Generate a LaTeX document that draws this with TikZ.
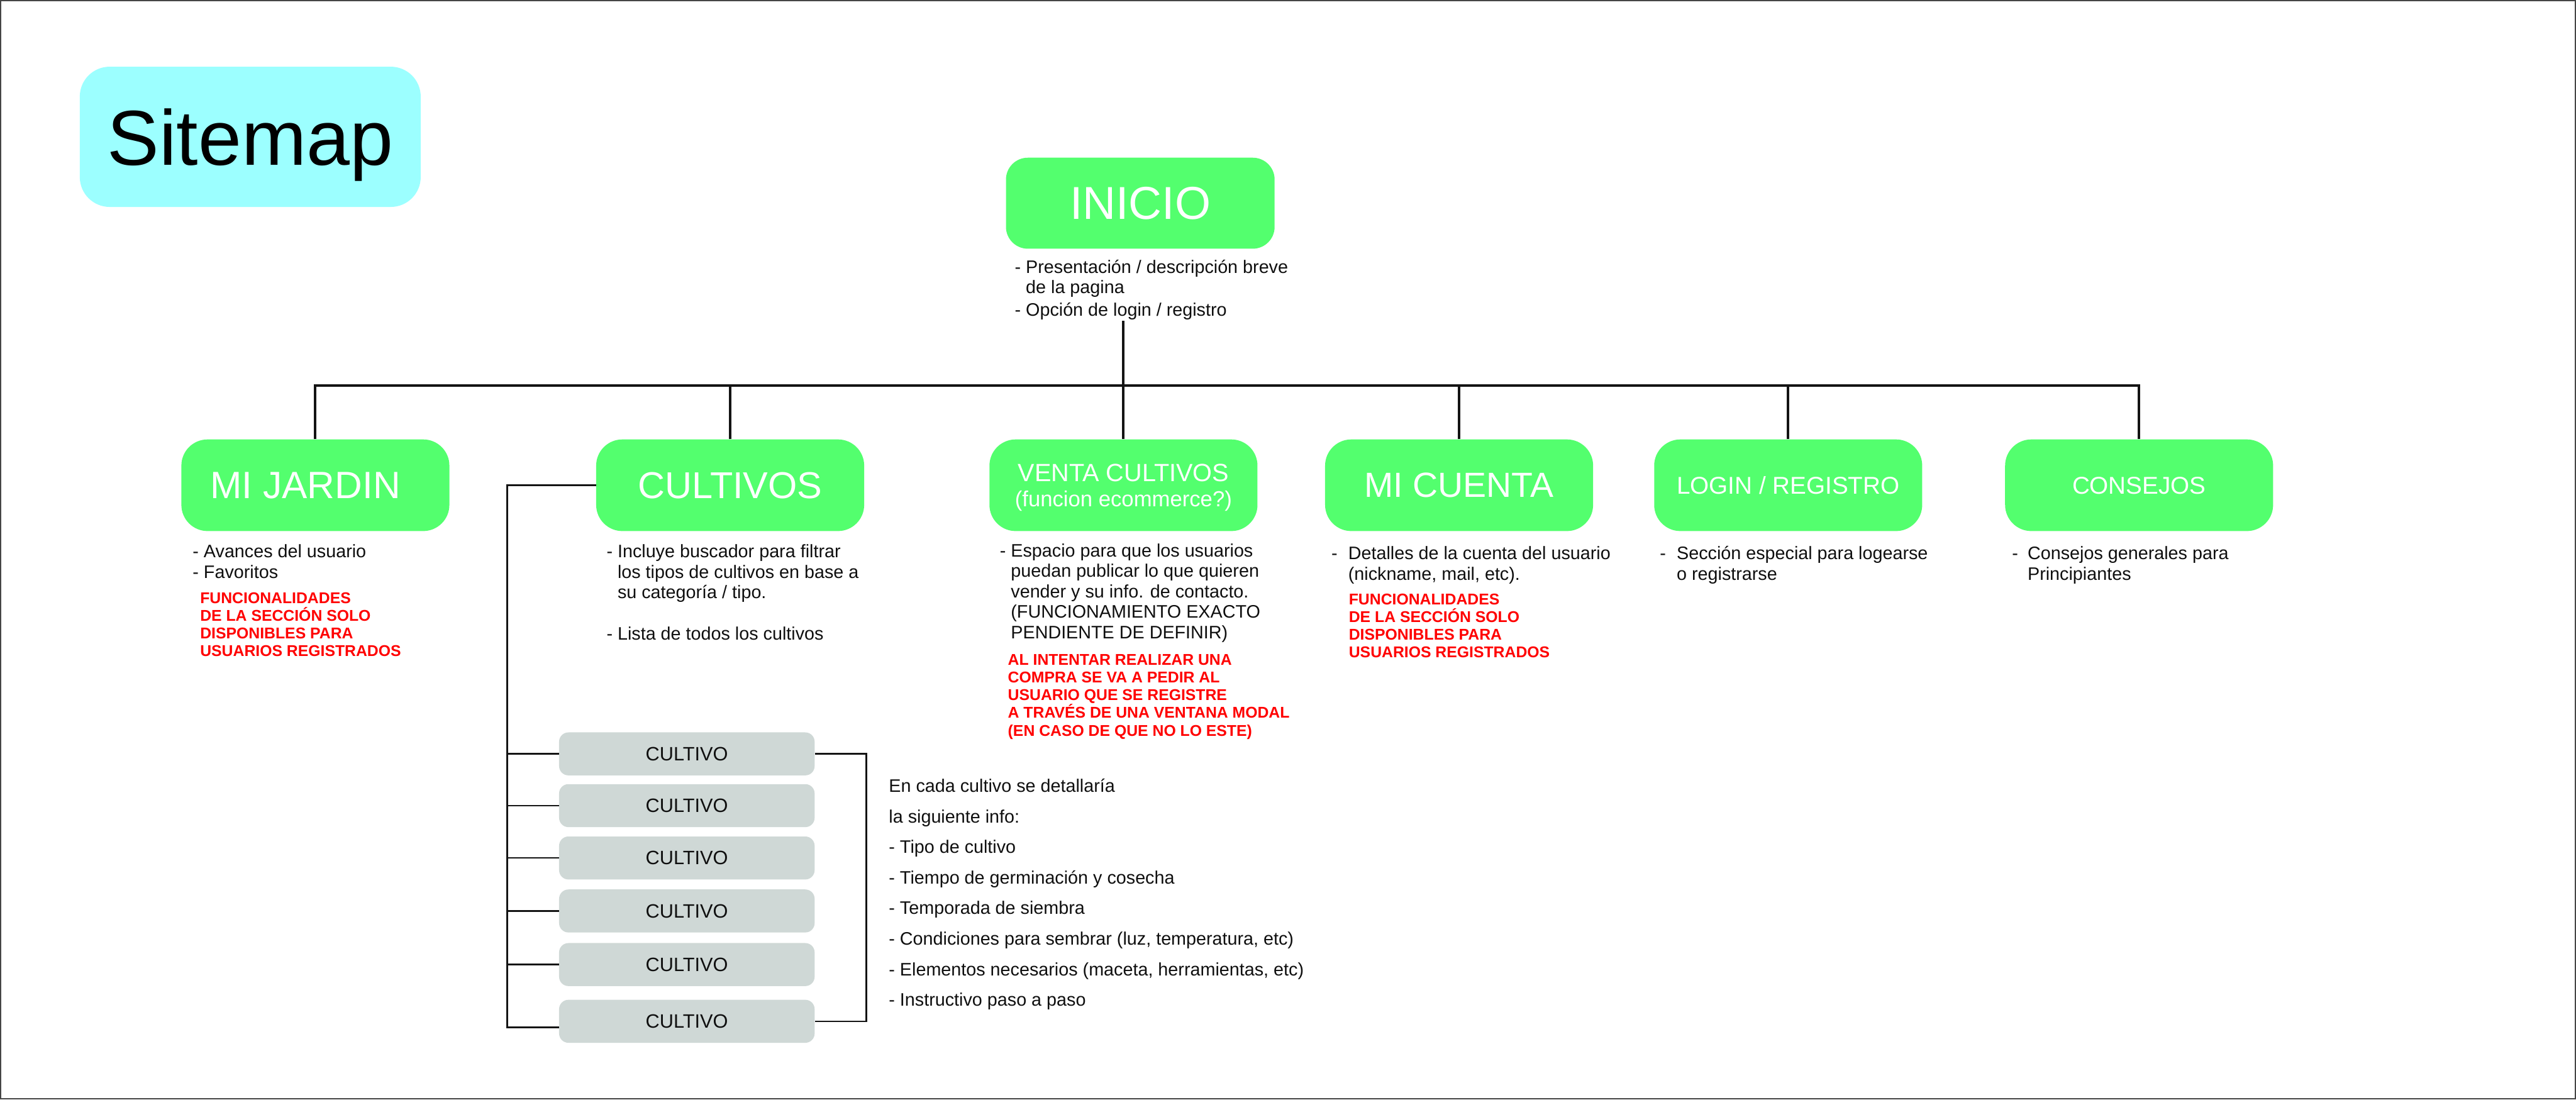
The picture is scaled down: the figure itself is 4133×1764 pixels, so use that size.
\documentclass[tikz,border=0pt]{standalone}
\usepackage{fontspec}
\setmainfont{Liberation Sans}
\definecolor{boxgreen}{RGB}{83,255,110}
\definecolor{sitecyan}{RGB}{156,255,255}
\definecolor{cultgray}{RGB}{207,216,214}
\definecolor{linek}{RGB}{20,20,20}
\definecolor{txtk}{RGB}{15,15,15}
\definecolor{redtxt}{RGB}{255,0,0}
\definecolor{framegray}{RGB}{70,70,70}
\begin{document}
\begin{tikzpicture}[x=1pt,y=-1pt,
  greenbox/.style={fill=boxgreen, draw=none, rounded corners=42pt, minimum width=430pt, minimum height=147pt, inner sep=0pt, text=white, align=center, text depth=0pt},
  cultbox/.style={fill=cultgray, draw=none, rounded corners=15pt, minimum width=410pt, minimum height=69pt, inner sep=0pt, text=txtk, font=\fontsize{31}{31}\selectfont, text depth=0pt},
  body/.style={inner sep=0pt, anchor=base west, text=txtk, font=\fontsize{29}{32.7}\selectfont},
  redbody/.style={inner sep=0pt, anchor=base west, text=redtxt, font=\bfseries\fontsize{25}{28.4}\selectfont},
  bus/.style={draw=linek, line width=4pt, line join=miter},
  tree/.style={draw=linek, line width=2.5pt, line join=miter},
]
\useasboundingbox (0,0) rectangle (4133,1764);
\draw[framegray, line width=2pt] (1,1) rectangle (4132,1763);

% title
\node[fill=sitecyan, rounded corners=48pt, minimum width=547pt, minimum height=225pt, inner sep=0pt,
      font=\fontsize{125}{125}\selectfont, text depth=0pt, text=black] (sitemap) at (401.5,219.5) {Sitemap};

% main nodes
\node[greenbox, rounded corners=35pt, minimum width=431pt, minimum height=146pt, font=\fontsize{74}{74}\selectfont] (inicio) at (1829.5,326) {INICIO};
\node[greenbox, font=\fontsize{61}{61}\selectfont] (jardin) at (506,778.5) {\hspace*{-32pt}MI JARDIN};
\node[greenbox, font=\fontsize{60}{60}\selectfont] (cultivos) at (1171.5,778.5) {CULTIVOS};
\node[greenbox, font=\fontsize{40}{42}\selectfont] (venta) at (1802.5,778.5) {VENTA CULTIVOS\\[-1pt]{\fontsize{35}{42}\selectfont(funcion ecommerce?)}};
\node[greenbox, font=\fontsize{56}{56}\selectfont] (cuenta) at (2341,778.5) {MI CUENTA};
\node[greenbox, font=\fontsize{39}{39}\selectfont] (login) at (2869,778.5) {LOGIN / REGISTRO};
\node[greenbox, font=\fontsize{39}{39}\selectfont] (consejos) at (3432,778.5) {CONSEJOS};

% descriptions
\node[body] (inicio-txt) at (1628,438) {\vtop{\hbox{- Presentación / descripción breve}\hbox{\phantom{- }de la pagina}\vskip4pt\hbox{- Opción de login / registro}}};
\node[body] (jardin-txt) at (309,895) {\vtop{\hbox{- Avances del usuario}\hbox{- Favoritos}}};
\node[redbody] (jardin-red) at (321,968) {\vtop{\hbox{FUNCIONALIDADES}\hbox{DE LA SECCIÓN SOLO}\hbox{DISPONIBLES PARA}\hbox{USUARIOS REGISTRADOS}}};
\node[body] (cultivos-txt) at (973,895) {\vtop{\hbox{- Incluye buscador para filtrar}\hbox{\phantom{- }los tipos de cultivos en base a}\hbox{\phantom{- }su categoría / tipo.}}};
\node[body] (cultivos-lista) at (973,1027) {- Lista de todos los cultivos};
\node[body] (venta-txt) at (1604,893.5) {\vtop{\hbox{- Espacio para que los usuarios}\hbox{\phantom{- }puedan publicar lo que quieren}\hbox{\phantom{- }vender y su info. de contacto.}\hbox{\phantom{- }(FUNCIONAMIENTO EXACTO}\hbox{\phantom{- }PENDIENTE DE DEFINIR)}}};
\node[redbody] (venta-red) at (1617,1067) {\vtop{\hbox{AL INTENTAR REALIZAR UNA}\hbox{COMPRA SE VA A PEDIR AL}\hbox{USUARIO QUE SE REGISTRE}\hbox{A TRAVÉS DE UNA VENTANA MODAL}\hbox{(EN CASO DE QUE NO LO ESTE)}}};
\node[body] (cuenta-txt) at (2136,898) {\vtop{\hbox{\makebox[27pt][l]{-}Detalles de la cuenta del usuario}\hbox{\hspace{27pt}(nickname, mail, etc).}}};
\node[redbody] (cuenta-red) at (2164,970) {\vtop{\hbox{FUNCIONALIDADES}\hbox{DE LA SECCIÓN SOLO}\hbox{DISPONIBLES PARA}\hbox{USUARIOS REGISTRADOS}}};
\node[body] (login-txt) at (2663,898) {\vtop{\hbox{\makebox[27pt][l]{-}Sección especial para logearse}\hbox{\hspace{27pt}o registrarse}}};
\node[body] (consejos-txt) at (3228,898) {\vtop{\hbox{\makebox[25pt][l]{-}Consejos generales para}\hbox{\hspace{25pt}Principiantes}}};

% cultivo list
\foreach \i/\y in {1/1209.5,2/1292.5,3/1376.5,4/1461.5,5/1547.5,6/1638.5}
  \node[cultbox] (c\i) at (1102,\y) {CULTIVO};

\node[body, font=\fontsize{29}{49}\selectfont] (detail) at (1426,1271) {\vtop{%
  \hbox{En cada cultivo se detallaría}%
  \hbox{la siguiente info:}%
  \hbox{- Tipo de cultivo}%
  \hbox{- Tiempo de germinación y cosecha}%
  \hbox{- Temporada de siembra}%
  \hbox{- Condiciones para sembrar (luz, temperatura, etc)}%
  \hbox{- Elementos necesarios (maceta, herramientas, etc)}%
  \hbox{- Instructivo paso a paso}}};

% connectors
\coordinate (busy) at (0,619);
\coordinate (istem) at (1802.5,515);
\draw[bus] (istem) -- (venta.north);
\draw[bus] (jardin.north) -- (jardin.north |- busy) -- (consejos.north |- busy) -- (consejos.north);
\foreach \n in {cultivos,cuenta,login}
  \draw[bus] (\n.north) -- (\n.north |- busy);

\coordinate (trunk) at (814,778.5);
\coordinate (trunkbot) at (814,1648);
\draw[tree] (cultivos.west) -- (trunk) -- (trunkbot) -- (trunkbot -| c6.west);
\foreach \i in {1,...,5}
  \draw[tree] (c\i.west) -- (c\i.west -| trunk);
\coordinate (rb) at (1390,0);
\draw[tree] (c1.east) -- (c1.east -| rb) -- (c6.east -| rb) -- (c6.east);
\end{tikzpicture}
\end{document}
